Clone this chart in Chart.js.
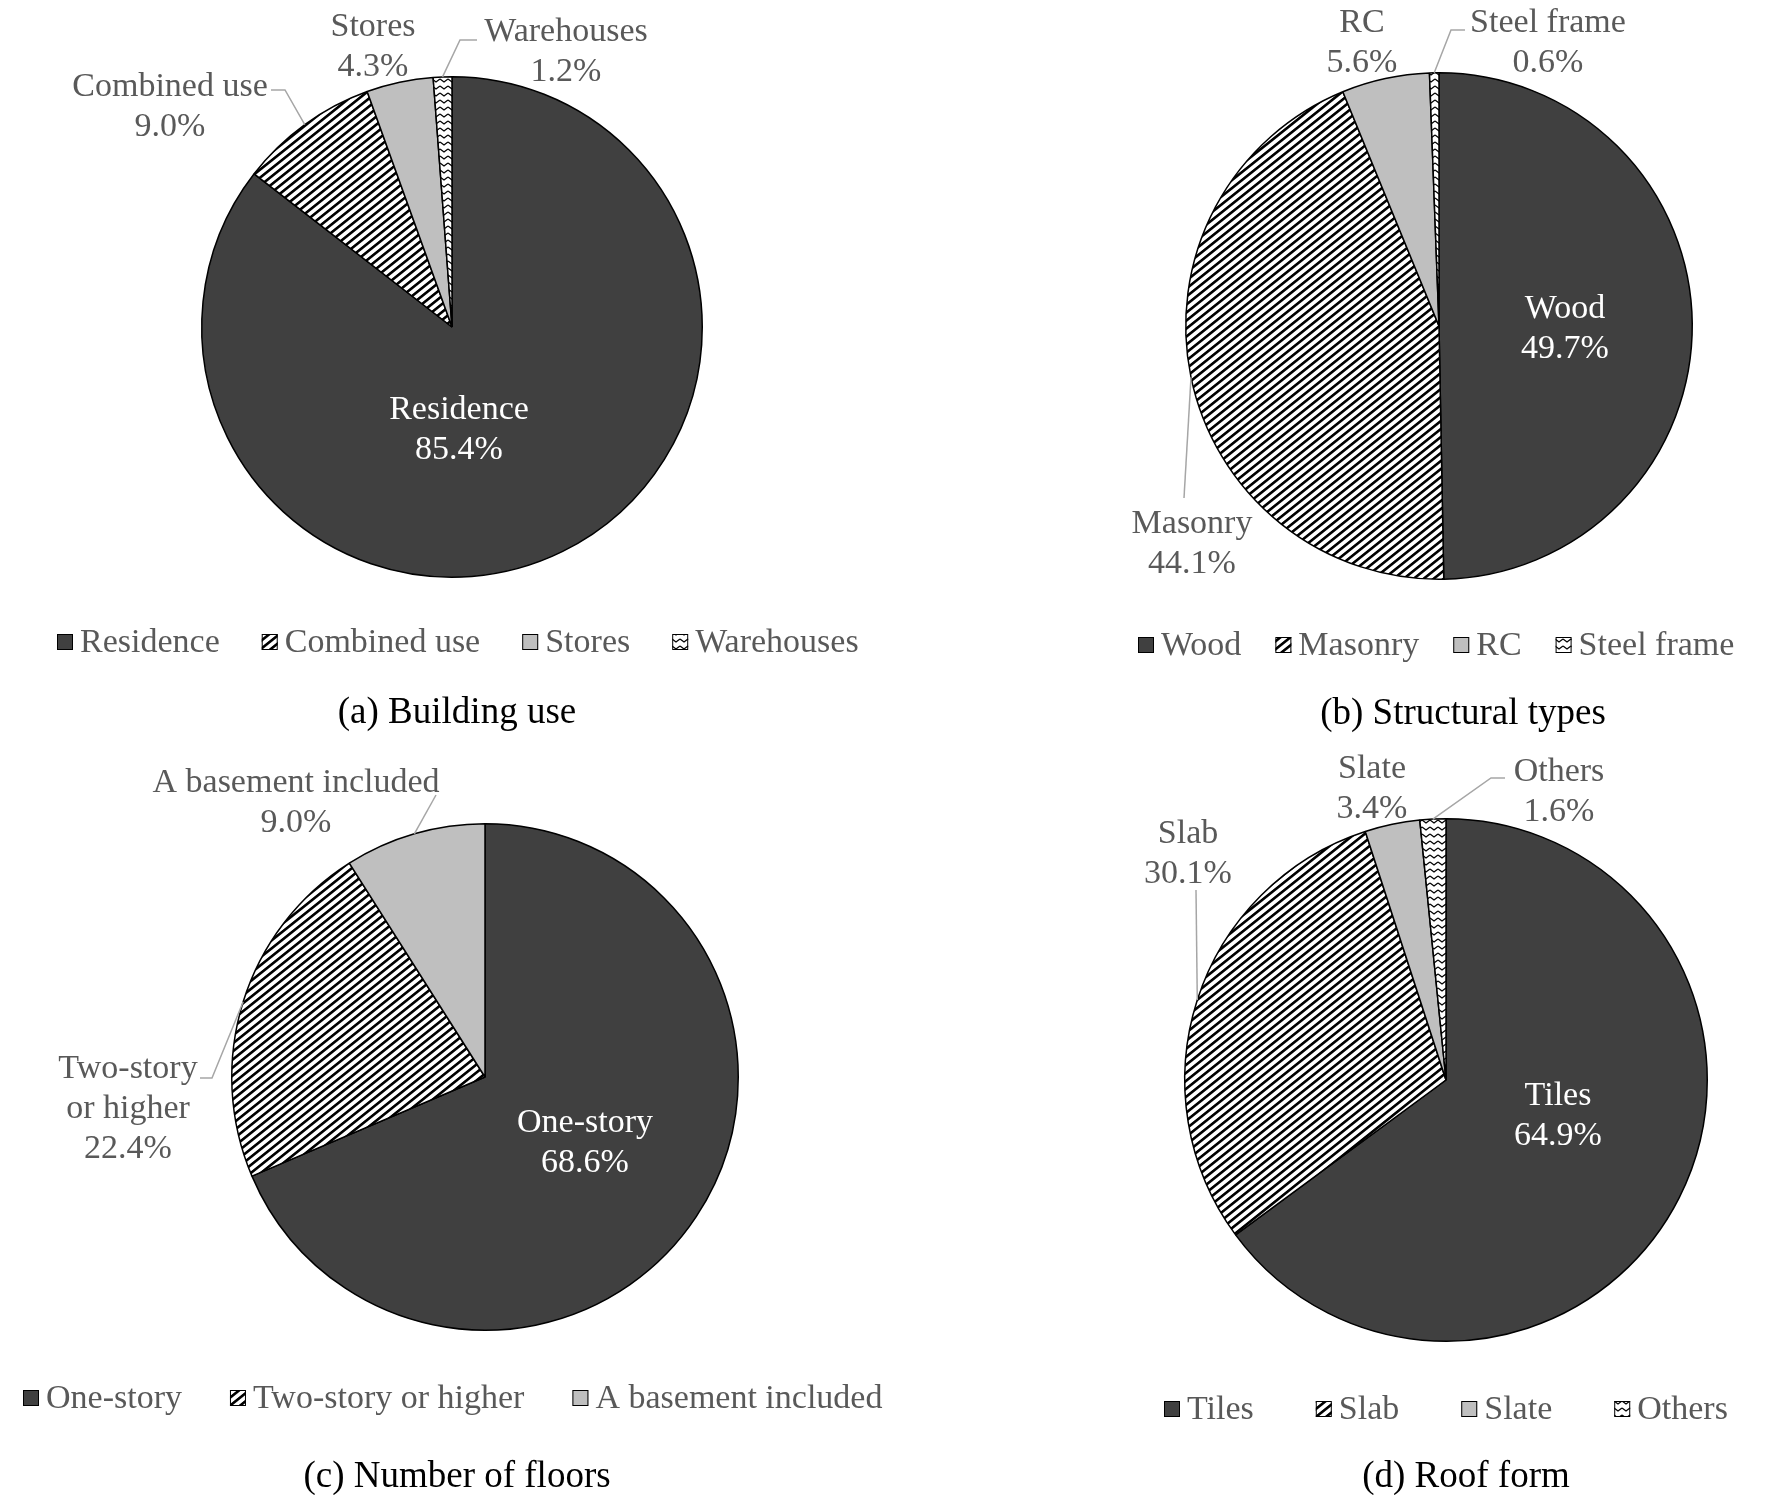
<!DOCTYPE html>
<html>
<head>
<meta charset="utf-8">
<script src="https://cdn.jsdelivr.net/npm/chart.js@4.4.1/dist/chart.umd.min.js"></script>
<style>
html, body { margin: 0; padding: 0; background: #fff; }
#page { position: relative; width: 1765px; height: 1495px; overflow: hidden; }
.panel { position: absolute; }
</style>
</head>
<body>
<div id="page">
  <div class="panel" style="left:0;top:0;width:875px;height:748px"><canvas id="chartA"></canvas></div>
  <div class="panel" style="left:875px;top:0;width:890px;height:748px"><canvas id="chartB"></canvas></div>
  <div class="panel" style="left:0;top:748px;width:910px;height:747px"><canvas id="chartC"></canvas></div>
  <div class="panel" style="left:910px;top:748px;width:855px;height:747px"><canvas id="chartD"></canvas></div>
</div>
<script>
// data (percent)
const useLabels = [ 'Residence', 'Combined use', 'Stores', 'Warehouses' ];
const useValues = [ 85.4, 9.0, 4.3, 1.2 ];

const structLabels = [ 'Wood', 'Masonry', 'RC', 'Steel frame' ];
const structValues = [ 49.7, 44.1, 5.6, 0.6 ];

const floorLabels = [ 'One-story', 'Two-story or higher', 'A basement included' ];
const floorValues = [ 68.6, 22.4, 9.0 ];

const roofLabels = [ 'Tiles', 'Slab', 'Slate', 'Others' ];
const roofValues = [ 64.9, 30.1, 3.4, 1.6 ];

const captions = [ '(a) Building use', '(b) Structural types', '(c) Number of floors', '(d) Roof form' ];

const FONT = '"Liberation Serif", "Times New Roman", serif';
const DARK = '#404040';
const LIGHT = '#bfbfbf';
const GREY_TEXT = '#595959';
const LEADER = '#a6a6a6';

// hatch fills like the Excel patterns
function stripePattern ()
{
    const w = 10, h = 8;
    const c = document.createElement( 'canvas' );
    c.width = w; c.height = h;
    const g = c.getContext( '2d' );
    const img = g.createImageData( w, h );
    for ( let y = 0; y < h; y++ )
    {
        for ( let x = 0; x < w; x++ )
        {
            // 4x4 supersampling of the upward diagonal band
            let ink = 0;
            for ( let sy = 0; sy < 4; sy++ )
            {
                for ( let sx = 0; sx < 4; sx++ )
                {
                    const t = ( ( x + ( sx + 0.5 ) / 4 ) / w + ( y + ( sy + 0.5 ) / 4 ) / h ) % 1;
                    if ( t < 0.42 ) ink++;
                }
            }
            const v = Math.round( 255 * ( 1 - ink / 16 ) );
            const k = ( y * w + x ) * 4;
            img.data[ k ] = v; img.data[ k + 1 ] = v; img.data[ k + 2 ] = v; img.data[ k + 3 ] = 255;
        }
    }
    g.putImageData( img, 0, 0 );
    return g.createPattern( c, 'repeat' );
}

function zigzagPattern ()
{
    const c = document.createElement( 'canvas' );
    c.width = 8; c.height = 7;
    const g = c.getContext( '2d' );
    g.fillStyle = '#fff';
    g.fillRect( 0, 0, 8, 7 );
    g.strokeStyle = '#000';
    g.lineWidth = 1.3;
    g.beginPath();
    g.moveTo( 0, 2 );
    g.lineTo( 4, 5 );
    g.lineTo( 8, 2 );
    g.stroke();
    return g.createPattern( c, 'repeat' );
}

const STRIPE = stripePattern();
const ZIGZAG = zigzagPattern();

// layout per panel, in page pixels
const panels = [
    {
        id: 'chartA', left: 0, top: 0, labels: useLabels, values: useValues, caption: captions[ 0 ],
        padding: { left: 201, top: 76, right: 172, bottom: 170 },
        fills: [ DARK, STRIPE, LIGHT, ZIGZAG ],
        labelPos: [ [ 459, 410 ], [ 170, 87 ], [ 373, 27 ], [ 566, 32 ] ],
        labelColor: [ '#fff', GREY_TEXT, GREY_TEXT, GREY_TEXT ],
        breaks: [ false, false, false, false ],
        leaders: [ null, [ [ 285, 90 ], [ 271, 90 ] ], null, [ [ 460, 40 ], [ 477, 40 ] ] ],
        legend: { x: 57, y: 642, gap: 42 },
        captionPos: [ 457, 713 ]
    },
    {
        id: 'chartB', left: 875, top: 0, labels: structLabels, values: structValues, caption: captions[ 1 ],
        padding: { left: 310, top: 72, right: 72, bottom: 168 },
        fills: [ DARK, STRIPE, LIGHT, ZIGZAG ],
        labelPos: [ [ 1565, 309 ], [ 1192, 524 ], [ 1362, 23 ], [ 1548, 23 ] ],
        labelColor: [ '#fff', GREY_TEXT, GREY_TEXT, GREY_TEXT ],
        breaks: [ false, false, false, false ],
        leaders: [ null, [ [ 1184, 498 ] ], null, [ [ 1451, 30 ], [ 1465, 30 ] ] ],
        legend: { x: 1138, y: 645, gap: 34 },
        captionPos: [ 1463, 714 ]
    },
    {
        id: 'chartC', left: 0, top: 748, labels: floorLabels, values: floorValues, caption: captions[ 2 ],
        padding: { left: 231, top: 75, right: 171, bottom: 164 },
        fills: [ DARK, STRIPE, LIGHT ],
        labelPos: [ [ 585, 1123 ], [ 128, 1069 ], [ 296, 783 ] ],
        labelColor: [ '#fff', GREY_TEXT, GREY_TEXT ],
        breaks: [ false, true, false ],
        leaders: [ null, [ [ 212, 1078 ], [ 200, 1078 ] ], [ [ 436, 795 ] ] ],
        legend: { x: 23, y: 1398, gap: 48 },
        captionPos: [ 457, 1477 ]
    },
    {
        id: 'chartD', left: 910, top: 748, labels: roofLabels, values: roofValues, caption: captions[ 3 ],
        padding: { left: 274, top: 70, right: 57, bottom: 153 },
        fills: [ DARK, STRIPE, LIGHT, ZIGZAG ],
        labelPos: [ [ 1558, 1096 ], [ 1188, 834 ], [ 1372, 769 ], [ 1559, 772 ] ],
        labelColor: [ '#fff', GREY_TEXT, GREY_TEXT, GREY_TEXT ],
        breaks: [ false, false, false, false ],
        leaders: [ null, [ [ 1196, 890 ] ], null, [ [ 1491, 778 ], [ 1505, 778 ] ] ],
        legend: { x: 1164, y: 1409, gap: 62 },
        captionPos: [ 1466, 1477 ]
    }
];

// data labels, leader lines, legend and caption
const annotatePlugin = {
    id: 'annotate',
    afterDraw ( chart )
    {
        const p = chart.options.plugins.annotate.panel;
        const ctx = chart.ctx;
        const meta = chart.getDatasetMeta( 0 );
        const ox = p.left, oy = p.top;

        ctx.save();

        // leader lines start at the middle of each slice's outer arc
        ctx.strokeStyle = LEADER;
        ctx.lineWidth = 1.5;
        p.leaders.forEach( ( pts, i ) =>
        {
            if ( !pts ) return;
            const a = meta.data[ i ].getProps( [ 'x', 'y', 'startAngle', 'endAngle', 'outerRadius' ], true );
            const mid = ( a.startAngle + a.endAngle ) / 2;
            ctx.beginPath();
            ctx.moveTo( a.x + Math.cos( mid ) * a.outerRadius, a.y + Math.sin( mid ) * a.outerRadius );
            pts.forEach( pt => ctx.lineTo( pt[ 0 ] - ox, pt[ 1 ] - oy ) );
            ctx.stroke();
        } );

        // labels
        ctx.font = '34px ' + FONT;
        ctx.textAlign = 'center';
        ctx.textBaseline = 'middle';
        p.labels.forEach( ( name, i ) =>
        {
            let lines = [ name ];
            if ( p.breaks[ i ] )
            {
                const cut = name.indexOf( ' ' );
                lines = [ name.slice( 0, cut ), name.slice( cut + 1 ) ];
            }
            lines.push( p.values[ i ].toFixed( 1 ) + '%' );
            ctx.fillStyle = p.labelColor[ i ];
            lines.forEach( ( t, k ) =>
            {
                ctx.fillText( t, p.labelPos[ i ][ 0 ] - ox, p.labelPos[ i ][ 1 ] - oy + k * 40 );
            } );
        } );

        // legend
        ctx.textAlign = 'left';
        let x = p.legend.x - ox;
        const ly = p.legend.y - oy;
        p.labels.forEach( ( name, i ) =>
        {
            ctx.fillStyle = p.fills[ i ];
            ctx.fillRect( x, ly - 8, 16, 16 );
            ctx.strokeStyle = '#000';
            ctx.lineWidth = 1;
            ctx.strokeRect( x + 0.5, ly - 7.5, 15, 15 );
            ctx.fillStyle = GREY_TEXT;
            ctx.fillText( name, x + 23, ly + 1 );
            x += 23 + ctx.measureText( name ).width + p.legend.gap;
        } );

        // caption
        ctx.font = '37px ' + FONT;
        ctx.textAlign = 'center';
        ctx.fillStyle = '#000';
        ctx.fillText( p.caption, p.captionPos[ 0 ] - ox, p.captionPos[ 1 ] - oy );

        ctx.restore();
    }
};

panels.forEach( p =>
{
    new Chart( document.getElementById( p.id ), {
        type: 'pie',
        data: {
            labels: p.labels,
            datasets: [ {
                data: p.values,
                backgroundColor: p.fills,
                borderColor: '#000',
                borderWidth: 1.5
            } ]
        },
        options: {
            responsive: true,
            maintainAspectRatio: false,
            devicePixelRatio: 1,
            animation: false,
            events: [],
            layout: { padding: p.padding },
            plugins: {
                legend: { display: false },
                tooltip: { enabled: false },
                annotate: { panel: p }
            }
        },
        plugins: [ annotatePlugin ]
    } );
} );
</script>
</body>
</html>
